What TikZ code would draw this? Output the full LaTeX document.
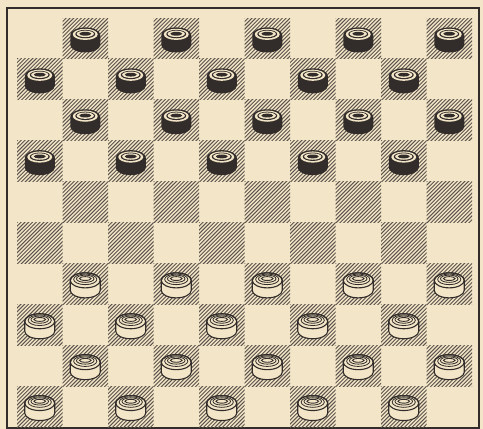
\documentclass[tikz,border=0pt]{standalone}
\definecolor{paper}{RGB}{243,229,199}
\definecolor{ink}{RGB}{50,45,42}
\definecolor{hatchc}{RGB}{92,85,77}
\tikzset{
  hatchline/.style={hatchc,line width=0.95pt},
  frameline/.style={ink,line width=2pt},
  pieceline/.style={ink,line width=1.1pt},
}
\newcommand{\bodypath}[2]{(#1-15,#2-5) -- (#1-15,#2+5) arc[start angle=180,end angle=0,x radius=15,y radius=7.5] -- (#1+15,#2-5) arc[start angle=0,end angle=-180,x radius=15,y radius=7.5] -- cycle}
\begin{document}
\begin{tikzpicture}[x=1pt,y=-1pt]
\fill[paper] (0,0) rectangle (483,429);
\useasboundingbox (0,0) rectangle (483,429);
\draw[frameline] (7,8) -- (479,8) -- (479,428) -- (7,428) -- cycle;
\foreach \r in {0,...,9}{
  \foreach \c in {0,...,9}{
    \pgfmathtruncatemacro\odd{mod(\r+\c,2)}
    \ifnum\odd=1
      \pgfmathsetmacro\xa{17+45.5*\c}
      \pgfmathsetmacro\ya{18+40.9*\r}
      \pgfmathsetmacro\cx{\xa+22.75}
      \pgfmathsetmacro\cy{\ya+20.45+1.5}
      \begin{scope}
        \clip (\xa,\ya) rectangle ++(45.5,40.9);
        \foreach \k in {-42,-38.2,...,47}
          \draw[hatchline] (\xa+\k,\ya+42) -- ++(44,-44);
      \end{scope}
      \ifnum\r<4
        % black piece
        \fill[ink] \bodypath{\cx}{\cy};
        \fill[paper] (\cx,\cy-5.6) ellipse[x radius=12.5,y radius=5.6];
        \fill[ink] (\cx,\cy-5.9) ellipse[x radius=10,y radius=4.2];
        \fill[paper] (\cx,\cy-6.1) ellipse[x radius=8.6,y radius=3.2];
        \fill[ink] (\cx,\cy-6.2) ellipse[x radius=6,y radius=1.9];
      \fi
      \ifnum\r>5
        % white piece
        \filldraw[pieceline,fill=paper] \bodypath{\cx}{\cy};
        \draw[pieceline] (\cx,\cy-5) ellipse[x radius=15,y radius=7.5];
        \draw[pieceline,line width=0.8pt] (\cx,\cy-6) ellipse[x radius=11.6,y radius=5.3];
        \draw[pieceline,line width=0.8pt] (\cx,\cy-6.6) ellipse[x radius=8.8,y radius=3.6];
        \draw[pieceline,line width=0.9pt] (\cx,\cy-6.8) ellipse[x radius=5.8,y radius=1.9];
      \fi
    \fi
  }
}
\end{tikzpicture}
\end{document}
